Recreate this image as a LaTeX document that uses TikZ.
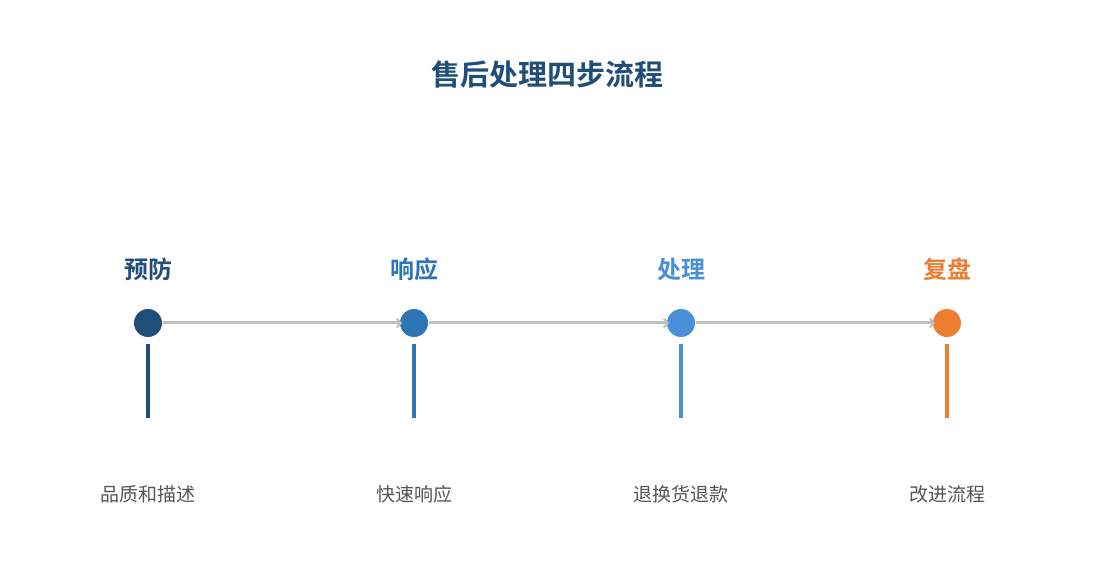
\documentclass[tikz,border=0pt]{standalone}
\usepackage{fontspec}
\setmainfont{Liberation Sans}
\newfontfamily\cjk{Noto Sans CJK SC}
\newfontfamily\cjkbold{Noto Sans CJK SC Bold}
\usetikzlibrary{arrows.meta,positioning}
\definecolor{stepA}{HTML}{1F4E79}
\definecolor{stepB}{HTML}{2E75B6}
\definecolor{stepC}{HTML}{4A90D9}
\definecolor{stepD}{HTML}{ED7D31}
\definecolor{flowgray}{HTML}{C0C0C0}
\definecolor{textgray}{HTML}{555555}

\begin{document}
\begin{tikzpicture}[x=1pt,y=-1pt,
    dot/.style={circle, fill=#1, draw=white, line width=0.8pt, minimum size=29pt, inner sep=0pt},
    steplabel/.style={text=#1, font=\cjkbold\fontsize{24}{28}\selectfont},
    desc/.style={text=textgray, font=\cjk\fontsize{19}{22}\selectfont},
    flow/.style={draw=flowgray, line width=3pt, -{Straight Barb[length=4pt,width=9pt,line width=2pt]}, shorten >=-3pt},
    stem/.style={draw=#1, line width=4pt}]
\useasboundingbox[fill=white] (0,0) rectangle (1095,585);

\node[text=stepA, font=\cjkbold\fontsize{29}{34}\selectfont] (title) at (547,74) {售后处理四步流程};

% four steps
\foreach \i/\x/\c/\lab/\txt in {1/148/stepA/预防/品质和描述, 2/414/stepB/响应/快速响应, 3/681/stepC/处理/退换货退款, 4/947/stepD/复盘/改进流程}{
    \node[dot=\c] (p\i) at (\x,323) {};
    \node[steplabel=\c] (l\i) at (\x,269) {\lab};
    \node[desc] (d\i) at (\x,494) {\txt};
    \coordinate (s\i) at (\x,344);
    \coordinate (e\i) at (\x,418);
    \draw[stem=\c] (s\i) -- (e\i);
}

% flow between steps
\draw[flow] (p1) -- (p2);
\draw[flow] (p2) -- (p3);
\draw[flow] (p3) -- (p4);
\end{tikzpicture}
\end{document}
